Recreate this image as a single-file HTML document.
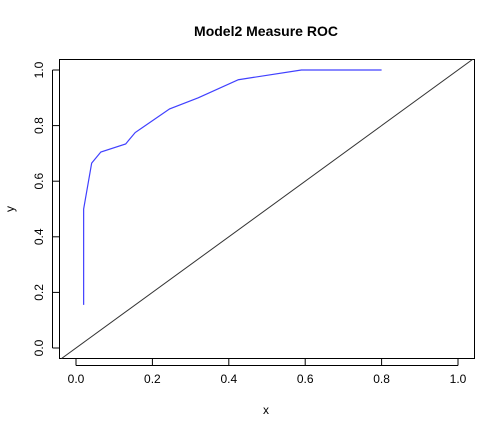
<!DOCTYPE html>
<html><head><meta charset="utf-8"><style>body{margin:0;background:#fff}svg{display:block;font-family:"Liberation Sans",Arial,sans-serif}</style></head>
<body>
<svg id="c" width="504" height="432" xmlns="http://www.w3.org/2000/svg">
<text x="266" y="36" text-anchor="middle" font-size="14" font-weight="bold">Model2 Measure ROC</text>
<rect x="59.5" y="59.5" width="415" height="299" fill="none" stroke="#000"/>
<g id="axes"></g>
<text x="266" y="414" text-anchor="middle" font-size="12">x</text>
<text transform="translate(14,209) rotate(-90)" text-anchor="middle" font-size="12">y</text>
</svg>
<script>
const xs=[0.02,0.02,0.041,0.065,0.13,0.155,0.245,0.32,0.425,0.59,0.8];
const ys=[0.155,0.5,0.665,0.705,0.734,0.775,0.86,0.90,0.965,1.0,1.0];
const ticks=[0,0.2,0.4,0.6,0.8,1.0];
const tickLabels=["0.0","0.2","0.4","0.6","0.8","1.0"];
const NS="http://www.w3.org/2000/svg";
const X=v=>76+v*382, Y=v=>348-v*278;
const svg=document.getElementById('c'), g=document.getElementById('axes');
function mk(t,a){const e=document.createElementNS(NS,t);for(const k in a)e.setAttribute(k,a[k]);return e;}
ticks.forEach((t,i)=>{
 const x=X(t);
 const l=mk('line',{x1:x,x2:x,y1:358.5,y2:365.5,stroke:'#000'});
 
 g.appendChild(l);
 const tx=mk('text',{x:x,y:383,'text-anchor':'middle','font-size':12});tx.textContent=tickLabels[i];
 
 g.appendChild(tx);
 const y=Y(t);
 const l2=mk('line',{x1:52.5,x2:59.5,y1:y,y2:y,stroke:'#000'});
 
 g.appendChild(l2);
 const ty=mk('text',{transform:`translate(43,${y}) rotate(-90)`,'text-anchor':'middle','font-size':12});ty.textContent=tickLabels[i];
 
 g.appendChild(ty);
});
g.appendChild(mk('line',{x1:76,x2:458,y1:365.5,y2:365.5,stroke:'#000'}));
g.appendChild(mk('line',{x1:52.5,x2:52.5,y1:Y(0),y2:Y(1),stroke:'#000'}));
const d=mk('line',{x1:X(-0.04),y1:Y(-0.04),x2:X(1.04),y2:Y(1.04),stroke:'#333','clip-path':'url(#cp)'});
const cp=mk('clipPath',{id:'cp'});cp.appendChild(mk('rect',{x:59.5,y:59.5,width:415,height:299}));svg.appendChild(cp);

svg.appendChild(d);
const p=mk('polyline',{points:xs.map((x,i)=>X(x)+','+Y(ys[i])).join(' '),fill:'none',stroke:'#4040ff','stroke-width':1.2});

svg.appendChild(p);
</script>
</body></html>
